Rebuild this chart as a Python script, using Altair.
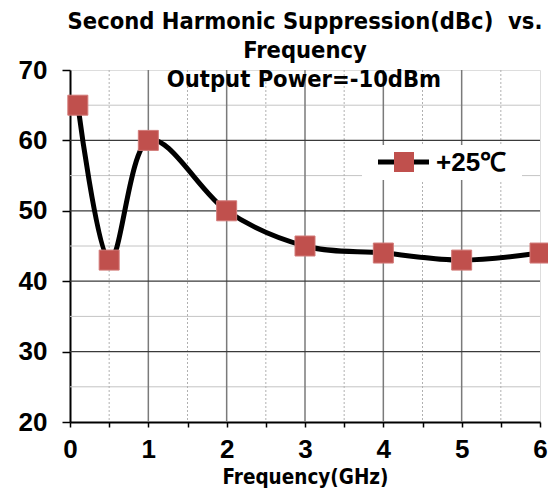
import altair as alt
import pandas as pd

freq = [0.1, 0.5, 1, 2, 3, 4, 5, 6]
supp = [65, 43, 60, 50, 45, 44, 43, 44]
x_major_grid = [1, 2, 3, 4, 5]
x_minor_grid = [0.5, 1.5, 2.5, 3.5, 4.5, 5.5]
y_major_grid = [30, 40, 50, 60]
y_minor_grid = [25, 35, 45, 55, 65]
x_ticks = [0, 0.5, 1, 1.5, 2, 2.5, 3, 3.5, 4, 4.5, 5, 5.5, 6]
y_ticks = [20, 30, 40, 50, 60, 70]
title_lines = ["Second Harmonic Suppression(dBc) \u00a0vs.", "Frequency"]
subtitle = "Output Power=-10dBm"
legend_label = "+25℃"
x_title = "Frequency(GHz)"

W, H = 470, 352
TFONT = "DejaVu Sans Condensed"
LFONT = "Liberation Sans"
TSIZE = 23.5

df = pd.DataFrame({"f": freq, "s": supp})
xs = alt.Scale(domain=[0, 6], nice=False, zero=False)
ys = alt.Scale(domain=[20, 70], nice=False, zero=False)

x_axis = alt.Axis(
    values=x_ticks, labelExpr="datum.value % 1 == 0 ? format(datum.value, 'd') : ''",
    title=x_title, titleFont=TFONT, titleFontSize=20.5, titleFontWeight="bold",
    titleColor="black", titlePadding=5,
    labelFont=LFONT, labelFontSize=26, labelFontWeight="bold", labelColor="black",
    labelPadding=9, tickSize=5, tickColor="black", tickWidth=1.5,
    domainColor="black", domainWidth=2, grid=False, labelFlush=False,
    labelOverlap=False)
y_axis = alt.Axis(
    values=y_ticks, title=None,
    labelFont=LFONT, labelFontSize=26, labelFontWeight="bold", labelColor="black",
    labelPadding=15, tickSize=8, tickColor="black", tickWidth=1.5,
    domainColor="black", domainWidth=2, grid=False, labelFlush=False,
    labelOverlap=False)

def vrules(vals, color, width, dash=None):
    kw = dict(color=color, strokeWidth=width)
    if dash:
        kw["strokeDash"] = dash
    return alt.Chart(pd.DataFrame({"v": vals})).mark_rule(**kw).encode(
        x=alt.X("v:Q", scale=xs, axis=x_axis))

def hrules(vals, color, width):
    return alt.Chart(pd.DataFrame({"v": vals})).mark_rule(color=color, strokeWidth=width).encode(
        y=alt.Y("v:Q", scale=ys, axis=y_axis))

grid = [
    hrules(y_minor_grid, "#c4c4c4", 1),
    vrules(x_minor_grid, "#b0b0b0", 1, [2, 2]),
    vrules(x_major_grid, "#7a7a7a", 1.5),
    hrules(y_major_grid, "#3a3a3a", 1.2),
]

base = alt.Chart(df).encode(
    x=alt.X("f:Q", scale=xs, axis=x_axis),
    y=alt.Y("s:Q", scale=ys, axis=y_axis),
)

line = base.mark_line(color="black", strokeWidth=5, interpolate="cardinal")
pts = base.mark_point(shape="square", filled=True, size=400, color="#C0504D",
                      opacity=1, stroke="#d27a78", strokeWidth=1, clip=False)

one = pd.DataFrame({"t": [legend_label]})
leg_box = alt.Chart(one).mark_rect(color="white").encode(
    x=alt.value(292), x2=alt.value(452), y=alt.value(75), y2=alt.value(110))
leg_line = alt.Chart(one).mark_rule(color="black", strokeWidth=5).encode(
    x=alt.value(308), x2=alt.value(359), y=alt.value(92))
leg_pt = alt.Chart(one).mark_point(shape="square", filled=True, size=400, color="#C0504D",
                                   opacity=1).encode(x=alt.value(334), y=alt.value(92))
leg_txt = alt.Chart(one).mark_text(font=LFONT, fontSize=26, fontWeight="bold", align="left",
                                   baseline="middle", color="black").encode(
    x=alt.value(366), y=alt.value(93), text="t:N")

sub = alt.Chart(pd.DataFrame({"t": [subtitle]})).mark_text(
    font=TFONT, fontSize=TSIZE, fontWeight="bold", align="center", baseline="alphabetic",
    color="black").encode(x=alt.value(234), y=alt.value(17), text="t:N")

ttl = alt.Chart(pd.DataFrame({"t": ["\n".join(title_lines)]})).mark_text(
    font=TFONT, fontSize=TSIZE, fontWeight="bold", align="center", baseline="alphabetic",
    lineBreak="\n", lineHeight=29, color="black").encode(
    x=alt.value(235), y=alt.value(-41), text="t:N")

chart = alt.layer(*grid, leg_box, line, pts, leg_line, leg_pt, leg_txt, sub, ttl).properties(
    width=W, height=H,
    autosize=alt.AutoSizeParams(type="none"),
    padding={"left": 62, "top": 62, "right": 8, "bottom": 68},
).configure_view(stroke="black", strokeWidth=1.5).configure(background="white")

chart.save("out.html", embed_options={"renderer": "svg", "actions": False})
